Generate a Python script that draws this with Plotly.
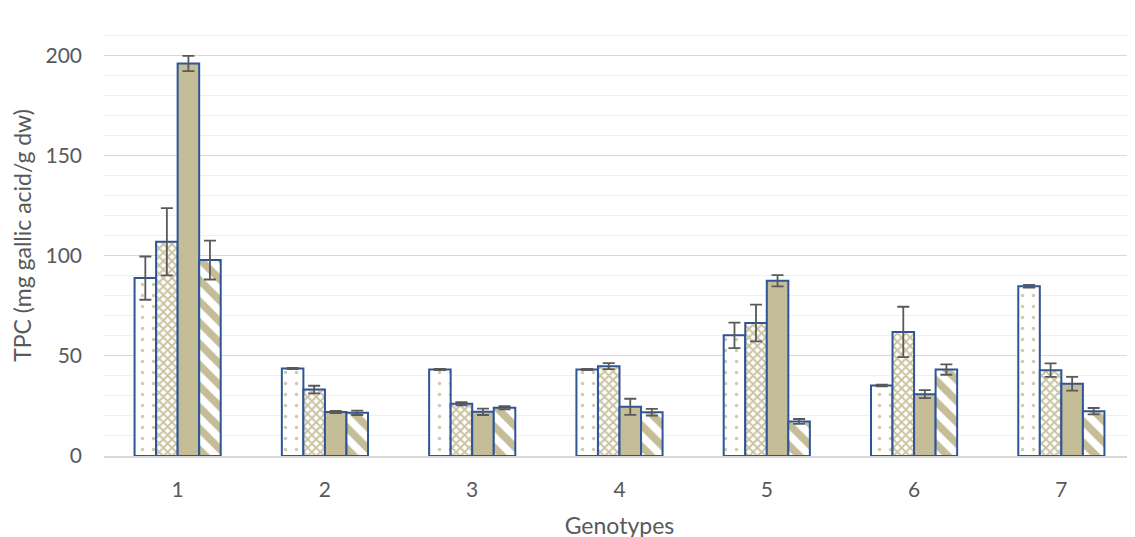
import plotly.graph_objects as go

genotypes = ["1", "2", "3", "4", "5", "6", "7"]
series_names = ["Treatment A", "Treatment B", "Treatment C", "Treatment D"]
values_a = [88.9, 43.7, 43.2, 43.2, 60.3, 35.2, 84.8]
err_a = [10.8, 0.3, 0.3, 0.3, 6.4, 0.4, 0.7]
values_b = [107.1, 33.2, 26.1, 44.9, 66.5, 62.0, 42.9]
err_b = [16.8, 1.9, 0.8, 1.5, 9.2, 12.6, 3.4]
values_c = [196.2, 22.0, 22.1, 24.6, 87.6, 30.9, 36.1]
err_c = [3.8, 0.5, 1.6, 4.0, 2.8, 2.0, 3.4]
values_d = [97.9, 21.6, 24.1, 21.9, 17.3, 43.2, 22.4]
err_d = [9.7, 1.1, 0.8, 1.7, 1.2, 2.6, 1.6]

TAN = "#C4BD97"
EDGE = "#2F5597"
ERR = "#595959"
FONT = "Lato"

patterns = [
    dict(shape=".", fgcolor=TAN, bgcolor="white", size=11, solidity=0.08, fgopacity=0.8, fillmode="replace"),
    dict(shape="x", fgcolor=TAN, bgcolor="white", size=6, solidity=0.55, fgopacity=0.9, fillmode="replace"),
    dict(shape="", fillmode="overlay"),
    dict(shape="\\", fgcolor=TAN, bgcolor="white", size=15, solidity=0.5, fgopacity=1, fillmode="replace"),
]
fills = ["white", "white", TAN, "white"]

fig = go.Figure()
for name, vals, errs, pat, fc in zip(series_names, [values_a, values_b, values_c, values_d],
                                      [err_a, err_b, err_c, err_d], patterns, fills):
    fig.add_trace(go.Bar(
        x=genotypes, y=vals, name=name,
        marker=dict(color=fc, line=dict(color=EDGE, width=2), pattern=pat),
        error_y=dict(type="data", array=errs, visible=True, color=ERR, thickness=1.8, width=6),
    ))

fig.update_layout(
    barmode="group",
    bargap=0.415,
    bargroupgap=0,
    showlegend=False,
    plot_bgcolor="white",
    paper_bgcolor="white",
    width=1135, height=537,
    margin=dict(l=96, r=8, t=7, b=89, autoexpand=False),
    font=dict(family=FONT, size=21, color="#595959"),
    xaxis=dict(
        title=dict(text="Genotypes", font=dict(size=23, color="#595959"), standoff=18),
        showline=True, linecolor="#D9D9D9", linewidth=1.5,
        ticks="", tickfont=dict(size=21), automargin=False,
        ticklabelstandoff=14,
    ),
    yaxis=dict(
        title=dict(text="TPC (mg gallic acid/g dw)", font=dict(size=23, color="#595959"), standoff=10),
        range=[0, 220.4], tickvals=[0, 50, 100, 150, 200],
        showgrid=True, gridcolor="#D9D9D9", gridwidth=1.3,
        minor=dict(dtick=10, showgrid=True, gridcolor="#F0F0F0", gridwidth=1),
        zeroline=False, showline=False, ticks="",
        tickfont=dict(size=21), automargin=False,
        ticklabelstandoff=21,
    ),
)

fig.write_html("out.html")
